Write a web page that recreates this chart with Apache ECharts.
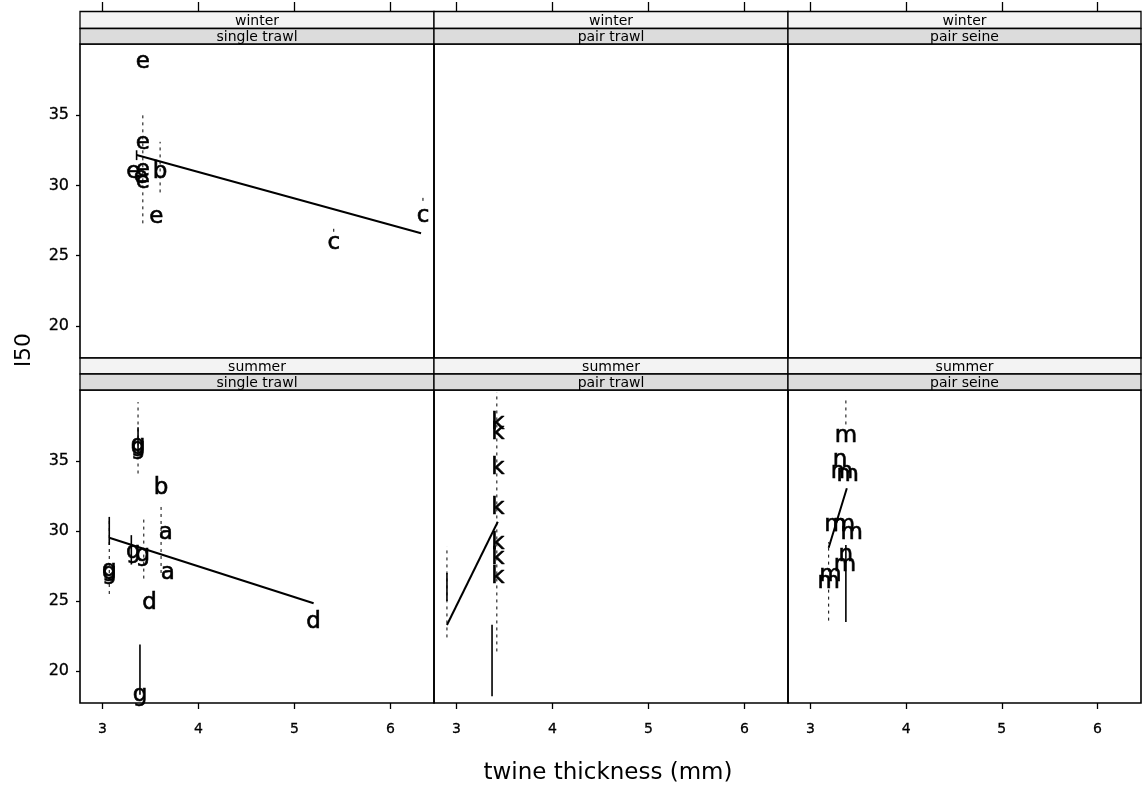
<!DOCTYPE html>
<html><head><meta charset="utf-8">
<script src="https://cdn.jsdelivr.net/npm/echarts@6/dist/echarts.min.js"></script>
<style>html,body{margin:0;padding:0;background:#fff}#c{width:1143px;height:792px}</style>
</head><body><div id="c"></div>
<script>
// ---- data ----
const xTicks = [3, 4, 5, 6];
const yTicks = [20, 25, 30, 35];
const seasons = ['winter', 'winter', 'winter', 'summer', 'summer', 'summer'];
const gears = ['single trawl', 'pair trawl', 'pair seine', 'single trawl', 'pair trawl', 'pair seine'];
const xTitle = 'twine thickness (mm)';
const yTitle = 'l50';

// points: [twine thickness, l50, group letter]
const pts1 = [[3.42,38.8,'e'],[3.42,33.0,'e'],[3.32,30.97,'e'],[3.42,31.1,'e'],[3.40,30.6,'e'],[3.42,30.26,'e'],[3.60,30.97,'b'],[3.56,27.77,'e'],[5.41,25.88,'c'],[6.34,27.82,'c']];
const pts2 = [];
const pts3 = [];
const pts4 = [[3.37,36.1,'g'],[3.37,35.9,'g'],[3.61,33.05,'b'],[3.66,29.84,'a'],[3.68,26.98,'a'],[3.07,26.98,'g'],[3.07,27.2,'g'],[3.32,28.5,'g'],[3.42,28.3,'g'],[3.49,24.84,'d'],[5.20,23.52,'d'],[3.39,18.3,'g']];
const pts5 = [[3.43,37.69,'k'],[3.43,36.98,'k'],[3.43,34.48,'k'],[3.43,31.62,'k'],[3.43,29.12,'k'],[3.43,28.05,'k'],[3.43,26.74,'k']];
const pts6 = [[3.37,36.74,'m'],[3.31,35.07,'n'],[3.33,34.24,'m'],[3.39,34.0,'m'],[3.26,30.43,'m'],[3.35,30.4,'m'],[3.43,29.84,'m'],[3.37,28.29,'n'],[3.36,27.57,'m'],[3.21,26.86,'m'],[3.19,26.38,'m']];

// fitted lines
const fit1 = [[3.355,32.16],[6.32,26.6]];
const fit2 = [];
const fit3 = [];
const fit4 = [[3.07,29.52],[5.20,24.84]];
const fit5 = [[2.90,23.29],[3.43,30.66]];
const fit6 = [[3.19,28.8],[3.30,31.26],[3.38,33.05]];

// interval bars: [x, low, high]
const dashBars1 = [[3.42,27.3,35.1],[3.60,29.5,33.1],[5.41,26.7,27.2],[6.34,28.9,29.3]];
const solidBars1 = [[3.355,31.8,32.5]];
const dashBars4 = [[3.37,34.1,39.2],[3.61,27.0,32.0],[3.07,25.5,31.0],[3.43,26.6,30.9]];
const solidBars4 = [[3.37,35.6,37.4],[3.30,27.6,29.7],[3.39,18.3,21.9],[3.07,29.0,31.0]];
const dashBars5 = [[2.90,22.4,28.9],[3.42,21.4,39.9]];
const solidBars5 = [[3.37,18.2,23.3],[2.90,25.0,27.0]];
const dashBars6 = [[3.37,37.6,39.6],[3.19,23.6,29.2]];
const solidBars6 = [[3.37,23.5,29.0]];

const allPts = [pts1, pts2, pts3, pts4, pts5, pts6];
const allFits = [fit1, fit2, fit3, fit4, fit5, fit6];
const allDash = [dashBars1, [], [], dashBars4, dashBars5, dashBars6];
const allSolid = [solidBars1, [], [], solidBars4, solidBars5, solidBars6];

// ---- layout ----
const FONT = 'DejaVu Sans';
const colLeft = [80, 434, 788];
const colWidth = [354, 354, 353];
const rowTop = [44, 390];
const rowHeight = [314, 313];
const stripTops = [[11.5, 28.5], [358, 374]];
const stripH = [[17, 15.5], [16, 16]];
const xMin = 2.765, xMax = 6.455, yMin = 17.72, yMax = 40.06;

const grids = [], xAxes = [], yAxes = [], series = [], graphics = [];
for (let i = 0; i < 6; i++) {
  const row = Math.floor(i / 3), col = i % 3;
  grids.push({left: colLeft[col], top: rowTop[row], width: colWidth[col], height: rowHeight[row],
    show: true, borderColor: '#000', borderWidth: 1.6, backgroundColor: 'transparent'});
  xAxes.push({gridIndex: i, type: 'value', min: xMin, max: xMax,
    position: row === 0 ? 'top' : 'bottom', offset: row === 0 ? 33 : 0,
    axisLine: {show: false}, splitLine: {show: false},
    axisTick: {show: true, inside: false, length: row === 0 ? 9 : 6, customValues: xTicks, lineStyle: {color: '#000', width: 1.3}},
    axisLabel: {show: row === 1, customValues: xTicks, margin: 19, fontSize: 14, color: '#000', fontFamily: FONT,
      textBorderColor: '#000', textBorderWidth: 0.3}});
  yAxes.push({gridIndex: i, type: 'value', min: yMin, max: yMax,
    axisLine: {show: false}, splitLine: {show: false},
    axisTick: {show: col === 0, inside: false, length: 4, customValues: yTicks, lineStyle: {color: '#000', width: 1.3}},
    axisLabel: {show: col === 0, customValues: yTicks, margin: 11, fontSize: 16, color: '#000', fontFamily: FONT,
      textBorderColor: '#000', textBorderWidth: 0.3}});

  const barRender = (dash) => (params, api) => {
    const x = api.value(0), lo = api.value(1), hi = api.value(2);
    const p1 = api.coord([x, lo]), p2 = api.coord([x, hi]);
    return {type: 'line', shape: {x1: p1[0], y1: p1[1], x2: p2[0], y2: p2[1]},
      style: {stroke: '#000', lineWidth: dash ? 1 : 1.6, lineDash: dash ? [3, 4] : null}};
  };
  series.push({type: 'custom', xAxisIndex: i, yAxisIndex: i, data: allDash[i], renderItem: barRender(true), encode: {x: 0, y: [1, 2]}, silent: true, z: 2});
  series.push({type: 'custom', xAxisIndex: i, yAxisIndex: i, data: allSolid[i], renderItem: barRender(false), encode: {x: 0, y: [1, 2]}, silent: true, z: 2});
  series.push({type: 'line', xAxisIndex: i, yAxisIndex: i, data: allFits[i], symbol: 'none', smooth: false,
    lineStyle: {color: '#000', width: 2}, silent: true, z: 3});
  const letters = allPts[i];
  series.push({type: 'custom', xAxisIndex: i, yAxisIndex: i, data: letters.map(p => [p[0], p[1]]), encode: {x: 0, y: 1}, silent: true, z: 4,
    renderItem: (params, api) => {
      const c = api.coord([api.value(0), api.value(1)]);
      return {type: 'text', x: c[0], y: c[1],
        style: {text: letters[params.dataIndex][2], font: '23px "' + FONT + '"', fill: '#000',
          stroke: '#000', lineWidth: 0.6, align: 'center', verticalAlign: 'middle'}};
    }});

  // strips
  const labels = [seasons[i], gears[i]];
  const fills = ['#f3f3f3', '#dcdcdc'];
  for (let s = 0; s < 2; s++) {
    graphics.push({type: 'rect', shape: {x: colLeft[col], y: stripTops[row][s], width: colWidth[col], height: stripH[row][s]},
      style: {fill: fills[s], stroke: '#000', lineWidth: 1.3}, z: 10});
    graphics.push({type: 'text', x: colLeft[col] + colWidth[col] / 2, y: stripTops[row][s] + stripH[row][s] / 2 + 1.5,
      style: {text: labels[s], textAlign: 'center', textVerticalAlign: 'middle', font: '14px "' + FONT + '"', fill: '#000'}, z: 11});
  }
}
graphics.push({type: 'text', x: 608, y: 773, style: {text: xTitle, textAlign: 'center', textVerticalAlign: 'middle', font: '23px "' + FONT + '"', fill: '#000'}, z: 11});
graphics.push({type: 'text', x: 24, y: 350, rotation: Math.PI / 2, style: {text: yTitle, textAlign: 'center', textVerticalAlign: 'middle', font: '22px "' + FONT + '"', fill: '#000'}, z: 11});

const chart = echarts.init(document.getElementById('c'), null, {renderer: 'canvas'});
chart.setOption({animation: false, backgroundColor: '#fff', grid: grids, xAxis: xAxes, yAxis: yAxes, series: series, graphic: graphics});
</script></body></html>
